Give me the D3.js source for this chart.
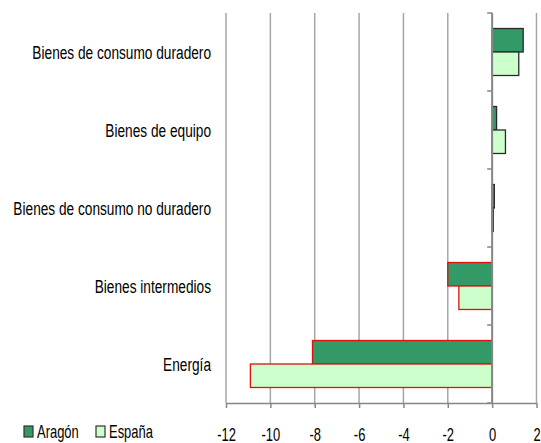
<!DOCTYPE html>
<html>
<head>
<meta charset="utf-8">
<script src="https://cdn.jsdelivr.net/npm/d3@7"></script>
<style>
    body { margin: 0; background: #fff; }
    text { font-family: "Liberation Sans", Arial, sans-serif; }
</style>
</head>
<body>
<svg id="chart" width="541" height="443"></svg>
<script>
const categories = ['Bienes de consumo duradero', 'Bienes de equipo', 'Bienes de consumo no duradero', 'Bienes intermedios', 'Energía'];
const aragon = [1.4, 0.2, 0.1, -2.0, -8.1];
const espana = [1.2, 0.6, 0.05, -1.5, -10.9];
const seriesNames = ['Aragón', 'España'];
const xTicks = [-12, -10, -8, -6, -4, -2, 0, 2];

const width = 541;
const height = 443;
const margin = { top: 13, right: 4.5, bottom: 40, left: 226 };
const squeeze = 0.72; // the original text is narrow

const svg = d3.select('#chart');

const x = d3.scaleLinear()
    .domain([-12, 2])
    .range([margin.left, width - margin.right]);

const y = d3.scaleBand()
    .domain(categories)
    .range([margin.top, height - margin.bottom]);

const sub = d3.scaleBand()
    .domain(seriesNames)
    .range([0, y.bandwidth()])
    .paddingOuter(0.66);

const colors = { 'Aragón': '#339966', 'España': '#ccffcc' };

// vertical gridlines
svg.append('g')
    .selectAll('line')
    .data(xTicks.filter(d => d !== 0))
    .join('line')
    .attr('x1', d => x(d))
    .attr('x2', d => x(d))
    .attr('y1', margin.top)
    .attr('y2', height - margin.bottom)
    .attr('stroke', '#a6a6a6')
    .attr('stroke-width', 1.5);

// bars
const rows = categories.map((c, i) => [
    { cat: c, name: 'Aragón', value: aragon[i] },
    { cat: c, name: 'España', value: espana[i] }
]).flat();

svg.append('g')
    .selectAll('rect')
    .data(rows)
    .join('rect')
    .attr('x', d => x(Math.min(0, d.value)))
    .attr('width', d => Math.abs(x(d.value) - x(0)))
    .attr('y', d => y(d.cat) + sub(d.name))
    .attr('height', sub.bandwidth())
    .attr('fill', d => colors[d.name])
    .attr('stroke', d => d.value < 0 ? '#dd1111' : '#2a2a2a')
    .attr('stroke-width', 1.3);

// zero axis with category ticks
const axisColor = '#868686';
svg.append('line')
    .attr('x1', x(0))
    .attr('x2', x(0))
    .attr('y1', margin.top)
    .attr('y2', height - margin.bottom)
    .attr('stroke', axisColor)
    .attr('stroke-width', 2);

const bounds = categories.map(c => y(c)).concat([y.range()[1]]);
svg.append('g')
    .selectAll('line')
    .data(bounds)
    .join('line')
    .attr('x1', x(0) - 5)
    .attr('x2', x(0))
    .attr('y1', d => d)
    .attr('y2', d => d)
    .attr('stroke', axisColor)
    .attr('stroke-width', 1.5);

// category labels
svg.append('g')
    .selectAll('text')
    .data(categories)
    .join('text')
    .attr('transform', d => `translate(211, ${y(d) + y.bandwidth() / 2}) scale(${squeeze}, 1)`)
    .attr('text-anchor', 'end')
    .attr('dy', '0.35em')
    .attr('font-size', '19px')
    .attr('fill', '#000')
    .text(d => d);

// bottom axis
const xAxis = svg.append('g')
    .attr('transform', `translate(0, ${height - margin.bottom})`)
    .call(d3.axisBottom(x).tickValues(xTicks).tickSize(5).tickSizeOuter(0).tickFormat(d3.format('d')));

xAxis.select('.domain')
    .attr('stroke', axisColor)
    .attr('stroke-width', 1.5);
xAxis.selectAll('.tick line')
    .attr('stroke', axisColor)
    .attr('stroke-width', 1.5);
xAxis.selectAll('.tick text')
    .attr('y', 31.5)
    .attr('dy', '0.35em')
    .attr('transform', `scale(${squeeze}, 1)`)
    .attr('font-size', '18px')
    .attr('font-family', '"Liberation Sans", Arial, sans-serif')
    .attr('fill', '#000')
    .text(d => d < 0 ? '-' + Math.abs(d) : d);

// legend
const legendX = [24, 96];
const legend = svg.append('g')
    .selectAll('g')
    .data(seriesNames)
    .join('g')
    .attr('transform', (d, i) => `translate(${legendX[i]}, 426)`);

legend.append('rect')
    .attr('width', 9)
    .attr('height', 11)
    .attr('fill', d => colors[d])
    .attr('stroke', '#333')
    .attr('stroke-width', 1.2);

legend.append('text')
    .attr('transform', `translate(13, 6) scale(${squeeze}, 1)`)
    .attr('dy', '0.35em')
    .attr('font-size', '18px')
    .attr('fill', '#000')
    .text(d => d);
</script>
</body>
</html>
